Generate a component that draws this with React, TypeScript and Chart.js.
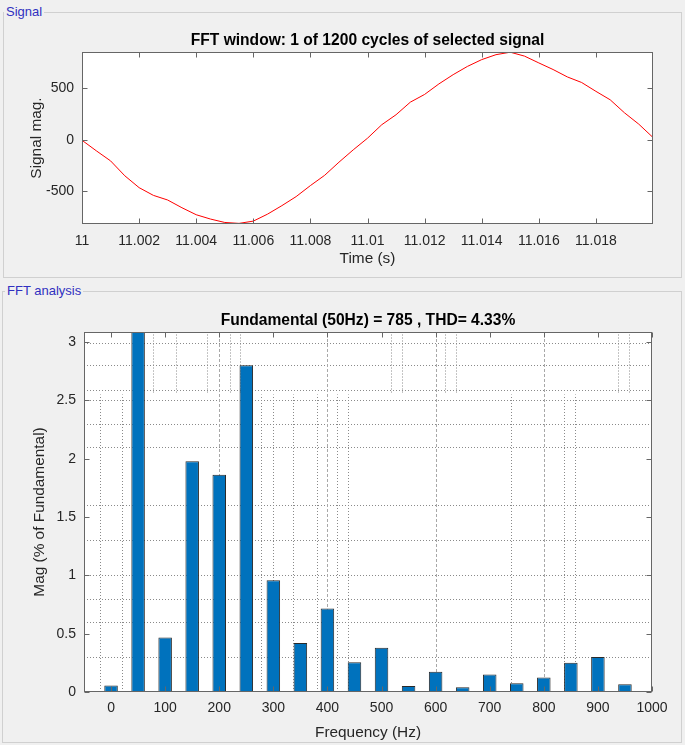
import React, { useEffect, useRef } from "react";
import { Chart, registerables } from "chart.js";
Chart.register(...registerables);

// ---------- data ----------
const signalTime = [
  11.0, 11.0005, 11.001, 11.0015, 11.002, 11.0025, 11.003, 11.0035, 11.004, 11.0045,
  11.005, 11.0055, 11.006, 11.0065, 11.007, 11.0075, 11.008, 11.0085, 11.009, 11.0095,
  11.01, 11.0105, 11.011, 11.0115, 11.012, 11.0125, 11.013, 11.0135, 11.014, 11.0145,
  11.015, 11.0155, 11.016, 11.0165, 11.017, 11.0175, 11.018, 11.0185, 11.019, 11.0195,
  11.02,
];
const signalValues = [
  -5, -107, -205, -350, -465, -540, -585, -660, -728, -770,
  -803, -812, -790, -722, -640, -552, -445, -345, -218, -98,
  15, 146, 243, 365, 440, 542, 632, 712, 778, 826,
  850, 812, 746, 682, 610, 556, 470, 388, 262, 152,
  22,
];
const timeTicks = [11, 11.002, 11.004, 11.006, 11.008, 11.01, 11.012, 11.014, 11.016, 11.018];
const timeTickLabels = ["11", "11.002", "11.004", "11.006", "11.008", "11.01", "11.012", "11.014", "11.016", "11.018"];
const signalTicks = [-500, 0, 500];
const signalTickLabels = ["-500", "0", "500"];

const harmonicFreqs = [0, 50, 100, 150, 200, 250, 300, 350, 400, 450, 500, 550, 600, 650, 700, 750, 800, 850, 900, 950];
const harmonicMags = [0.055, 100, 0.468, 1.977, 1.862, 2.8, 0.957, 0.42, 0.715, 0.256, 0.38, 0.052, 0.174, 0.04, 0.15, 0.075, 0.125, 0.25, 0.3, 0.067];
const freqTicks = [0, 100, 200, 300, 400, 500, 600, 700, 800, 900, 1000];
const freqTickLabels = ["0", "100", "200", "300", "400", "500", "600", "700", "800", "900", "1000"];
const magTicks = [0, 0.5, 1, 1.5, 2, 2.5, 3];
const magTickLabels = ["0", "0.5", "1", "1.5", "2", "2.5", "3"];

const hGridValues = [0.3, 0.6, 0.8, 1.0, 1.3, 1.6, 2.1, 2.3, 2.5, 2.59, 2.8, 2.99];
const vGridFull = [200, 400, 600, 800];
const vGridLower = [-20, 20, 278, 299, 336, 380, 418, 438, 740, 838, 858];
const vGridUpper = [78, 120, 178, 219, 238, 518, 538, 618, 638, 938, 958];
const gridSplit = 2.55;

// ---------- styles ----------
const FONT = "'Liberation Sans', Arial, Helvetica, sans-serif";
const AXC = "#666666";
const TXT = "#262626";
const PANEL_BG = "#f0f0f0";

function bgPlugin() {
  return {
    id: "plotBg",
    beforeDraw(chart: any) {
      const { ctx, chartArea: a } = chart;
      ctx.save();
      ctx.fillStyle = "#ffffff";
      ctx.fillRect(a.left, a.top, a.right - a.left, a.bottom - a.top);
      ctx.restore();
    },
  };
}

function frameTicksPlugin(xT: number[], yT: number[], len: number) {
  return {
    id: "frameTicks",
    afterDatasetsDraw(chart: any) {
      const { ctx, chartArea: a, scales } = chart;
      const xs = scales.x;
      const ys = scales.y;
      ctx.save();
      ctx.strokeStyle = AXC;
      ctx.lineWidth = 1;
      ctx.beginPath();
      const L = Math.round(a.left) + 0.5;
      const R = Math.round(a.right) - 0.5;
      const T = Math.round(a.top) + 0.5;
      const B = Math.round(a.bottom) - 0.5;
      xT.forEach((v) => {
        const p = Math.round(xs.getPixelForValue(v)) + 0.5;
        ctx.moveTo(p, B);
        ctx.lineTo(p, B - len);
        ctx.moveTo(p, T);
        ctx.lineTo(p, T + len);
      });
      yT.forEach((v) => {
        const p = Math.round(ys.getPixelForValue(v)) + 0.5;
        ctx.moveTo(L, p);
        ctx.lineTo(L + len, p);
        ctx.moveTo(R, p);
        ctx.lineTo(R - len, p);
      });
      ctx.stroke();
      ctx.strokeRect(L, T, R - L, B - T);
      ctx.restore();
    },
  };
}

function labelsPlugin(title: string, titleY: number, xLabel: string, xLabelY: number, yLabel: string, yLabelX: number) {
  return {
    id: "labels",
    afterDraw(chart: any) {
      const { ctx, chartArea: a } = chart;
      const cx = (a.left + a.right) / 2;
      const cy = (a.top + a.bottom) / 2;
      ctx.save();
      ctx.textAlign = "center";
      ctx.textBaseline = "middle";
      ctx.fillStyle = "#000000";
      ctx.font = `bold 15.6px ${FONT}`;
      ctx.fillText(title, cx, titleY);
      ctx.fillStyle = TXT;
      ctx.font = `15.4px ${FONT}`;
      ctx.fillText(xLabel, cx, xLabelY);
      ctx.translate(yLabelX, cy);
      ctx.rotate(-Math.PI / 2);
      ctx.fillText(yLabel, 0, 0);
      ctx.restore();
    },
  };
}

function gridPlugin() {
  return {
    id: "messyGrid",
    beforeDatasetsDraw(chart: any) {
      const { ctx, chartArea: a, scales } = chart;
      const xs = scales.x;
      const ys = scales.y;
      ctx.save();
      ctx.beginPath();
      ctx.rect(a.left, a.top, a.right - a.left, a.bottom - a.top);
      ctx.clip();
      ctx.lineWidth = 1;
      ctx.strokeStyle = "#8a8a8a";
      ctx.setLineDash([1, 2]);
      ctx.beginPath();
      hGridValues.forEach((v) => {
        const p = Math.round(ys.getPixelForValue(v)) + 0.5;
        ctx.moveTo(a.left, p);
        ctx.lineTo(a.right, p);
      });
      const split = ys.getPixelForValue(gridSplit);
      vGridLower.forEach((v) => {
        const p = Math.round(xs.getPixelForValue(v)) + 0.5;
        ctx.moveTo(p, a.bottom);
        ctx.lineTo(p, split);
      });
      vGridUpper.forEach((v) => {
        const p = Math.round(xs.getPixelForValue(v)) + 0.5;
        ctx.moveTo(p, split - 2);
        ctx.lineTo(p, a.top);
      });
      ctx.stroke();
      ctx.strokeStyle = "#a8a8a8";
      ctx.setLineDash([3, 2]);
      ctx.beginPath();
      vGridFull.forEach((v) => {
        const p = Math.round(xs.getPixelForValue(v)) + 0.5;
        ctx.moveTo(p, a.bottom);
        ctx.lineTo(p, a.top);
      });
      ctx.stroke();
      ctx.restore();
    },
  };
}

const tickFont = { family: FONT, size: 14 };

export default function App() {
  const sigRef = useRef<HTMLCanvasElement | null>(null);
  const fftRef = useRef<HTMLCanvasElement | null>(null);

  useEffect(() => {
    Chart.defaults.font.family = FONT;
    const c1 = new Chart(sigRef.current as HTMLCanvasElement, {
      type: "line",
      data: {
        datasets: [
          {
            data: signalTime.map((t, i) => ({ x: t, y: signalValues[i] })),
            borderColor: "#ff0000",
            borderWidth: 1,
            pointRadius: 0,
            tension: 0,
            fill: false,
          },
        ],
      },
      options: {
        responsive: false,
        animation: false,
        events: [],
        layout: { padding: { left: 0, right: 32, top: 52, bottom: 0 } },
        plugins: { legend: { display: false }, tooltip: { enabled: false }, title: { display: false } },
        scales: {
          x: {
            type: "linear",
            min: 11,
            max: 11.02,
            afterBuildTicks: (s: any) => {
              s.ticks = timeTicks.map((v) => ({ value: v }));
            },
            afterFit: (s: any) => {
              s.height = 56;
            },
            ticks: {
              autoSkip: false,
              maxRotation: 0,
              padding: 9,
              color: TXT,
              font: tickFont,
              callback: (_v: any, i: number) => timeTickLabels[i],
            },
            grid: { display: false, drawTicks: false },
            border: { display: false },
          },
          y: {
            type: "linear",
            min: -818,
            max: 852,
            afterBuildTicks: (s: any) => {
              s.ticks = signalTicks.map((v) => ({ value: v }));
            },
            afterFit: (s: any) => {
              s.width = 82;
            },
            ticks: {
              padding: 8,
              color: TXT,
              font: tickFont,
              callback: (_v: any, i: number) => signalTickLabels[i],
            },
            grid: { display: false, drawTicks: false },
            border: { display: false },
          },
        },
      } as any,
      plugins: [
        bgPlugin(),
        frameTicksPlugin(timeTicks, signalTicks, 5),
        labelsPlugin("FFT window: 1 of 1200 cycles of selected signal", 41, "Time (s)", 258.5, "Signal mag.", 37),
      ],
    });

    const c2 = new Chart(fftRef.current as HTMLCanvasElement, {
      type: "bar",
      data: {
        datasets: [
          {
            data: harmonicFreqs.map((f, i) => ({ x: f, y: harmonicMags[i] })),
            backgroundColor: "#0072bd",
            borderColor: "#2a2a2a",
            borderWidth: 1,
            borderSkipped: false,
            barPercentage: 0.5,
            categoryPercentage: 1,
          },
        ],
      },
      options: {
        responsive: false,
        animation: false,
        events: [],
        layout: { padding: { left: 0, right: 33, top: 41, bottom: 0 } },
        plugins: { legend: { display: false }, tooltip: { enabled: false }, title: { display: false } },
        scales: {
          x: {
            type: "linear",
            min: -50,
            max: 1000,
            offset: false,
            afterBuildTicks: (s: any) => {
              s.ticks = freqTicks.map((v) => ({ value: v }));
            },
            afterFit: (s: any) => {
              s.height = 53;
            },
            ticks: {
              autoSkip: false,
              maxRotation: 0,
              padding: 8,
              color: TXT,
              font: tickFont,
              callback: (_v: any, i: number) => freqTickLabels[i],
            },
            grid: { display: false, drawTicks: false },
            border: { display: false },
          },
          y: {
            type: "linear",
            min: 0,
            max: 3.086,
            afterBuildTicks: (s: any) => {
              s.ticks = magTicks.map((v) => ({ value: v }));
            },
            afterFit: (s: any) => {
              s.width = 84;
            },
            ticks: {
              padding: 8,
              color: TXT,
              font: tickFont,
              callback: (_v: any, i: number) => magTickLabels[i],
            },
            grid: { display: false, drawTicks: false },
            border: { display: false },
          },
        },
      } as any,
      plugins: [
        bgPlugin(),
        gridPlugin(),
        frameTicksPlugin(freqTicks, magTicks, 5),
        labelsPlugin("Fundamental (50Hz) = 785 , THD= 4.33%", 30, "Frequency (Hz)", 442, "Mag (% of Fundamental)", 40),
      ],
    });

    return () => {
      c1.destroy();
      c2.destroy();
    };
  }, []);

  const legendStyle: React.CSSProperties = {
    position: "absolute",
    padding: "0 2px",
    background: PANEL_BG,
    color: "#3030c0",
    fontFamily: FONT,
    fontSize: 13,
    lineHeight: "16px",
    height: 16,
    whiteSpace: "nowrap",
  };

  return (
    <div
      style={{
        position: "fixed",
        left: 0,
        top: 0,
        width: 685,
        height: 745,
        background: PANEL_BG,
        overflow: "hidden",
      }}
    >
      <div style={{ position: "absolute", left: 3, top: 12, width: 677, height: 264, border: "1px solid #d0d0d0" }} />
      <div style={{ ...legendStyle, left: 4, top: 4 }}>Signal</div>
      <div style={{ position: "absolute", left: 2, top: 291, width: 678, height: 450, border: "1px solid #d0d0d0" }} />
      <div style={{ ...legendStyle, left: 5, top: 283 }}>FFT analysis</div>
      <canvas ref={sigRef} width={685} height={280} style={{ position: "absolute", left: 0, top: 0, width: 685, height: 280 }} />
      <canvas ref={fftRef} width={685} height={454} style={{ position: "absolute", left: 0, top: 291, width: 685, height: 454 }} />
    </div>
  );
}
